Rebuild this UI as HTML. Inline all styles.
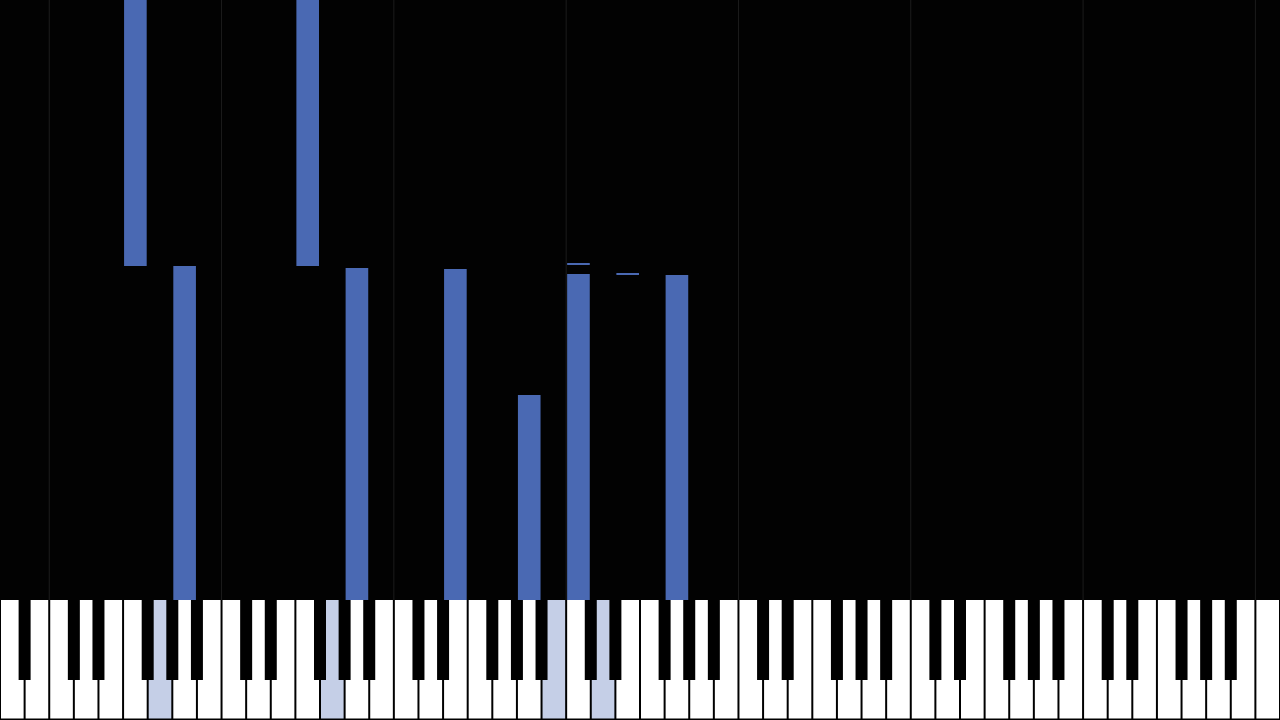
<!DOCTYPE html>
<html><head><meta charset="utf-8"><style>
html,body{margin:0;padding:0;background:#000;width:1280px;height:720px;overflow:hidden}
svg{display:block}
</style></head><body>
<svg id="roll" width="1280" height="720" xmlns="http://www.w3.org/2000/svg">
<rect x="0" y="0" width="1280" height="720" fill="#020202"/>
<g id="grid"></g><g id="notes"></g><g id="keys"></g>
</svg>
<script>
// note data: white key index, start time, end time (time units: 0 = keyboard line, larger = further up)
const noteKeys  = [5, 7, 12, 14, 18, 21, 23, 23, 25, 27];
const noteStart = [334, 0, 334, 0, 0, 0, 0, 335, 325, 0];
const noteEnd   = [600, 334, 600, 332, 331, 205, 326, 337, 327, 325];
const activeKeys = [6, 13, 22, 24];

const NS='http://www.w3.org/2000/svg';
const W=1280/52, KB=600;
const xKey=i=>i*W;
const yTime=t=>KB-t;
function mk(tag,attrs,parent){const e=document.createElementNS(NS,tag);for(const k in attrs)e.setAttribute(k,attrs[k]);parent.appendChild(e);return e;}

const grid=document.getElementById('grid');
for(let c=2;c<52;c+=7){
  const l=mk('rect',{x:xKey(c)-0.5,y:0,width:1,height:KB,fill:'#1c1c1c'},grid);
  
  
}
const notes=document.getElementById('notes');
for(let n=0;n<noteKeys.length;n++){
  const x=xKey(noteKeys[n])+1, y1=yTime(noteEnd[n]), y2=yTime(noteStart[n]);
  const r=mk('rect',{x:x,y:y1,width:W-2,height:Math.max(2,y2-y1),fill:'#4a69b3'},notes);
  
  
}
const keys=document.getElementById('keys');
mk('rect',{x:0,y:KB,width:1280,height:120,fill:'#000'},keys);
for(let i=0;i<52;i++){
  const k=mk('rect',{x:xKey(i)+1,y:KB,width:W-2,height:118.5,fill:activeKeys.includes(i)?'#c5cfe7':'#fff'},keys);
  
  
}
// black keys: after white index where note letter has sharp (A0 start: A,B,C,D,E,F,G)
const letters=['A','B','C','D','E','F','G'];
for(let i=0;i<51;i++){
  const L=letters[i%7];
  if(L==='B'||L==='E')continue;
  const b=mk('rect',{x:xKey(i+1)-6,y:KB,width:12,height:80,fill:'#000'},keys);
  
  
}
</script>
</body></html>
